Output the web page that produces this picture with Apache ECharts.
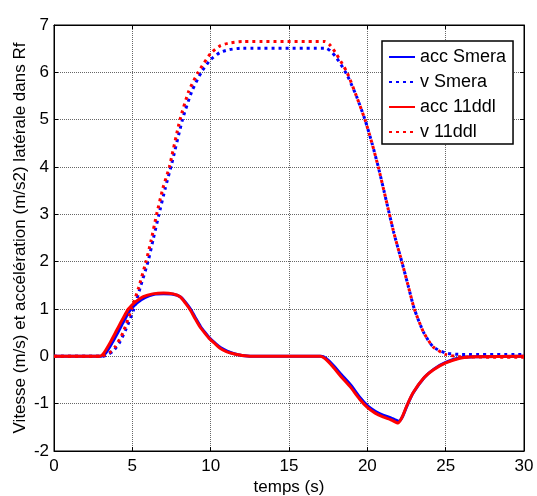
<!DOCTYPE html>
<html>
<head>
<meta charset="utf-8">
<script src="https://cdn.jsdelivr.net/npm/echarts@6/dist/echarts.min.js"></script>
<style>html,body{margin:0;padding:0;background:#fff}#c{width:537px;height:496px}</style>
</head>
<body>
<div id="c"></div>
<script>
// ---- data ----
const xTicks = [0, 5, 10, 15, 20, 25, 30];
const yTicks = [-2, -1, 0, 1, 2, 3, 4, 5, 6, 7];
const seriesNames = ['acc Smera', 'v Smera', 'acc 11ddl', 'v 11ddl'];

const tAccSmera = [0, 3.0, 3.3, 3.7, 4.1, 4.5, 4.85, 5.3, 5.8, 6.4, 7.0, 7.6, 8.1, 8.45, 8.75, 9.05, 9.35, 9.65, 9.95, 10.35, 10.65, 11.05, 11.45, 12.0, 13.0, 17.05, 17.35, 17.85, 18.35, 18.95, 19.5, 20.0, 20.5, 21.0, 21.5, 22.0, 22.25, 22.55, 22.95, 23.65, 24.25, 25.0, 25.9, 26.8, 30];
const accSmera  = [0, 0, 0.07, 0.28, 0.52, 0.77, 0.97, 1.13, 1.24, 1.31, 1.32, 1.31, 1.25, 1.12, 0.98, 0.8, 0.63, 0.5, 0.38, 0.26, 0.18, 0.11, 0.06, 0.02, 0, 0, -0.04, -0.2, -0.39, -0.61, -0.86, -1.04, -1.16, -1.24, -1.3, -1.37, -1.27, -1.03, -0.76, -0.44, -0.27, -0.13, -0.03, -0.01, 0];

const tVSmera = [0, 3.1, 3.4, 3.8, 4.2, 4.6, 5.1, 5.5, 6.0, 6.35, 6.7, 7.1, 7.5, 8.2, 8.8, 9.4, 10.0, 10.6, 11.2, 12.0, 17.35, 17.65, 18.05, 18.7, 19.3, 19.85, 20.3, 20.7, 21.2, 21.7, 22.2, 22.6, 23.0, 23.6, 24.2, 25.0, 26.0, 30];
const vSmera  = [0, 0, 0.03, 0.12, 0.3, 0.58, 1.0, 1.45, 2.0, 2.5, 3.0, 3.55, 4.05, 5.0, 5.6, 6.0, 6.27, 6.42, 6.48, 6.51, 6.51, 6.45, 6.3, 5.95, 5.5, 5.0, 4.5, 4.0, 3.3, 2.6, 2.0, 1.5, 1.0, 0.5, 0.2, 0.07, 0.04, 0.04];

const tAcc11 = [0, 2.9, 3.2, 3.6, 4.0, 4.4, 4.75, 5.2, 5.7, 6.3, 7.0, 7.6, 8.05, 8.4, 8.7, 9.0, 9.3, 9.6, 9.9, 10.3, 10.6, 11.0, 11.4, 12.0, 13.0, 17.0, 17.3, 17.8, 18.3, 18.9, 19.5, 20.0, 20.5, 21.0, 21.5, 21.95, 22.2, 22.5, 22.9, 23.6, 24.2, 25.0, 25.9, 26.8, 30];
const acc11  = [0, 0, 0.08, 0.3, 0.55, 0.8, 1.0, 1.15, 1.26, 1.32, 1.34, 1.32, 1.26, 1.12, 0.98, 0.8, 0.63, 0.5, 0.38, 0.26, 0.17, 0.1, 0.06, 0.02, 0, 0, -0.05, -0.22, -0.42, -0.64, -0.9, -1.08, -1.2, -1.28, -1.34, -1.41, -1.3, -1.06, -0.78, -0.46, -0.29, -0.14, -0.04, -0.01, 0];

const tV11 = [0, 3.0, 3.25, 3.55, 3.9, 4.4, 4.95, 5.4, 5.87, 6.2, 6.55, 6.95, 7.36, 8.04, 8.6, 9.2, 10.0, 10.6, 11.2, 12.0, 17.3, 17.6, 18.0, 18.7, 19.3, 19.85, 20.3, 20.7, 21.2, 21.7, 22.2, 22.6, 23.0, 23.6, 24.2, 25.0, 26.0, 30];
const v11  = [0, 0, 0.03, 0.08, 0.2, 0.5, 1.0, 1.45, 2.0, 2.45, 3.0, 3.55, 4.0, 5.0, 5.6, 6.0, 6.4, 6.56, 6.62, 6.65, 6.65, 6.58, 6.4, 6.0, 5.5, 5.0, 4.5, 4.0, 3.3, 2.6, 2.0, 1.5, 1.0, 0.5, 0.2, 0.04, -0.01, -0.02];

const zip = (t, v) => t.map((x, i) => [x, v[i]]);

const chart = echarts.init(document.getElementById('c'), null, {renderer: 'canvas'});
const FONT = 'Liberation Sans, Arial, sans-serif';
const FS = 17;
const axisCommon = {
  type: 'value',
  axisLine: {show: true, onZero: false, lineStyle: {color: '#000', width: 1}},
  axisTick: {show: true, inside: true, length: 4, lineStyle: {color: '#000'}},
  axisLabel: {color: '#000', fontSize: FS, fontFamily: FONT}
};
const lineSeries = (name, data, color, dotted) => ({
  name, type: 'line', data, showSymbol: false, symbol: 'none', smooth: 0.2,
  lineStyle: {color, width: 3, type: dotted ? [3, 4] : 'solid'},
  itemStyle: {color}, z: 3, animation: false
});

chart.setOption({
  animation: false,
  backgroundColor: '#fff',
  grid: {left: 54, right: 13, top: 25, bottom: 45, containLabel: false, outerBoundsMode: 'none',
         show: true, borderColor: '#000', borderWidth: 1, backgroundColor: '#fff'},
  legend: {
    orient: 'vertical', left: 382, top: 41,
    backgroundColor: '#fff', borderColor: '#000', borderWidth: 1.5,
    padding: [7, 7, 3, 6], itemGap: 7, itemWidth: 26, itemHeight: 14,
    itemStyle: {opacity: 0},
    textStyle: {color: '#000', fontSize: 18, fontFamily: FONT, lineHeight: 17},
    data: seriesNames.map(n => ({name: n}))
  },
  xAxis: [
    Object.assign({}, axisCommon, {
      min: xTicks[0], max: xTicks[xTicks.length - 1], interval: 5,
      name: 'temps (s)', nameLocation: 'middle', nameGap: 28, nameMoveOverlap: false,
      nameTextStyle: {color: '#000', fontSize: FS, fontFamily: FONT},
      axisLabel: Object.assign({}, axisCommon.axisLabel, {margin: 7}),
      splitLine: {show: true, lineStyle: {color: '#666', type: 'dotted', width: 1}}
    }),
    Object.assign({}, axisCommon, {
      position: 'top', min: 0, max: 30, interval: 5,
      axisLabel: {show: false}, splitLine: {show: false}
    })
  ],
  yAxis: [
    Object.assign({}, axisCommon, {
      min: yTicks[0], max: yTicks[yTicks.length - 1], interval: 1,
      name: 'Vitesse (m/s) et accélération (m/s2) latérale dans Rf', nameLocation: 'middle', nameGap: 25, nameMoveOverlap: false,
      nameTextStyle: {color: '#000', fontSize: FS, fontFamily: FONT},
      axisLabel: Object.assign({}, axisCommon.axisLabel, {margin: 5}),
      splitLine: {show: true, lineStyle: {color: '#666', type: 'dotted', width: 1}}
    }),
    Object.assign({}, axisCommon, {
      position: 'right', min: -2, max: 7, interval: 1,
      axisLabel: {show: false}, splitLine: {show: false}
    })
  ],
  series: [
    lineSeries(seriesNames[0], zip(tAccSmera, accSmera), '#0000ff', false),
    lineSeries(seriesNames[1], zip(tVSmera, vSmera), '#0000ff', true),
    lineSeries(seriesNames[2], zip(tAcc11, acc11), '#ff0000', false),
    lineSeries(seriesNames[3], zip(tV11, v11), '#ff0000', true)
  ]
});
</script>
</body>
</html>
